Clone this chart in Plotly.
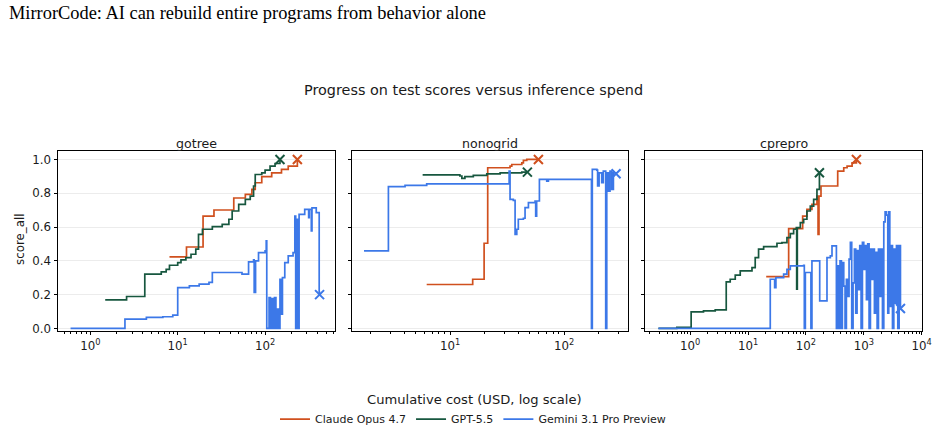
import plotly.graph_objects as go

# ---------------- data ----------------
panels = ["gotree", "nonogrid", "cprepro"]
models = ["Claude Opus 4.7", "GPT-5.5", "Gemini 3.1 Pro Preview"]
colors = ["#D0501E", "#17573F", "#3C78E8"]

# gotree
gotree_claude_x = [8.05, 12.6, 19.5, 26.0, 43.8, 59.4, 70.6, 77.1, 91.6, 119, 154, 184, 234]
gotree_claude_y = [0.423, 0.482, 0.665, 0.701, 0.772, 0.793, 0.823, 0.862, 0.898, 0.921, 0.941, 0.961, 1.0]
gotree_gpt_x = [1.48, 2.60, 4.20, 6.48, 7.38, 8.05, 10.0, 10.9, 12.4, 14.2, 16.1, 17.3, 19.2, 24.9, 32.3,
                38.5, 42.0, 49.9, 59.4, 67.6, 73.8, 77.1, 91.6, 100, 114, 130, 148]
gotree_gpt_y = [0.169, 0.189, 0.321, 0.335, 0.350, 0.374, 0.390, 0.406, 0.419, 0.439, 0.469, 0.557, 0.587,
                0.602, 0.616, 0.646, 0.695, 0.734, 0.764, 0.783, 0.843, 0.911, 0.921, 0.937, 0.961, 0.976, 1.0]
gotree_gem_x = [0.594, 2.49, 4.38, 6.76, 8.78, 10.0, 13.6, 17.6, 22.8, 24.9, 52.1, 54.4, 64.7, 73.8, 75.0,
                77.8, 84.1, 100, 103, 104.5, 111, 115, 119, 124, 128, 133, 137, 142, 148, 154, 158, 168,
                184, 209, 219, 224, 232, 238, 245, 284, 315, 320, 338, 344, 385, 409, 416, 420]
gotree_gem_y = [0.0, 0.055, 0.065, 0.069, 0.079, 0.242, 0.252, 0.262, 0.272, 0.331, 0.331, 0.321, 0.394,
                0.406, 0.213, 0.400, 0.449, 0.459, 0.518, 0.0, 0.183, 0.0, 0.177, 0.0, 0.183, 0.0, 0.114,
                0.0, 0.291, 0.085, 0.301, 0.390, 0.429, 0.449, 0.665, 0.0, 0.646, 0.0, 0.675, 0.705,
                0.656, 0.705, 0.577, 0.713, 0.685, 0.685, 0.213, 0.20]

# nonogrid
nono_claude_x = [6.24, 15.8, 19.9, 21.4, 33.6, 34.8, 42.6, 44.0, 47.1, 59.6]
nono_claude_y = [0.260, 0.291, 0.504, 0.951, 0.961, 0.970, 0.980, 0.994, 1.0, 1.0]
nono_gpt_x = [5.75, 12.2, 12.7, 13.5, 16.0, 21.0, 27.5, 42.6, 47.7]
nono_gpt_y = [0.909, 0.902, 0.888, 0.898, 0.906, 0.915, 0.921, 0.925, 0.925]
nono_gem_x = [1.76, 2.88, 4.03, 6.24, 32.5, 33.0, 33.6, 35.9, 37.2, 38.5, 39.7, 44.0, 45.5, 48.7, 55.7,
              56.4, 57.5, 60.8, 70.5, 72.9, 171, 174, 177, 194, 197, 203, 214, 221, 232, 237, 245, 253,
              262, 271, 286]
nono_gem_y = [0.459, 0.839, 0.846, 0.856, 0.856, 0.931, 0.764, 0.758, 0.557, 0.587, 0.646, 0.652, 0.715,
              0.744, 0.754, 0.665, 0.754, 0.882, 0.872, 0.882, 0.882, 0.0, 0.941, 0.937, 0.843, 0.921,
              0.862, 0.931, 0.0, 0.921, 0.813, 0.931, 0.823, 0.921, 0.915]

# cprepro
cpre_claude_x = [20.6, 50.3, 87.8, 104, 127, 155, 162, 168, 182, 354, 450, 514, 627, 745]
cpre_claude_y = [0.307, 0.591, 0.665, 0.705, 0.734, 0.783, 0.557, 0.783, 0.843, 0.931, 0.951, 0.961,
                 0.980, 1.0]
cpre_gpt_x = [0.283, 0.588, 1.04, 1.70, 2.71, 4.20, 4.92, 6.01, 7.33, 11.7, 13.3, 15.2, 18.6, 31.6, 38.5,
              47.0, 53.7, 61.3, 68.2, 69.2, 71.0, 80.0, 91.4, 104, 119, 136, 155, 171]
cpre_gpt_y = [0.0, 0.006, 0.098, 0.104, 0.110, 0.276, 0.291, 0.315, 0.341, 0.360, 0.419, 0.469, 0.484,
              0.504, 0.508, 0.537, 0.561, 0.587, 0.596, 0.232, 0.596, 0.626, 0.646, 0.695, 0.724, 0.764,
              0.823, 0.921]
cpre_gem_x = [0.283, 24.2, 28.8, 30.3, 41.2, 47.0, 53.7, 91.4, 93.8, 97.7, 119, 122, 127, 168, 173, 217,
              231, 264, 282, 323, 336, 354, 373, 388, 410, 426, 450, 474, 500, 527, 556, 586, 618, 652,
              687, 725, 764, 807, 851, 897, 946, 997, 1052, 1109, 1169, 1233, 1300, 1371, 1445, 1524,
              1607, 1698, 1790, 1888, 1991, 2099, 2213, 2333, 2460, 2594, 2698, 2812, 2965, 3126, 3296,
              3475, 3664, 3863, 4074, 4295]
cpre_gem_y = [0.0, 0.291, 0.242, 0.301, 0.321, 0.350, 0.370, 0.374, 0.0, 0.331, 0.331, 0.0, 0.400,
              0.400, 0.163, 0.163, 0.419, 0.429, 0.488, 0.488, 0.0, 0.37, 0.0, 0.40, 0.0, 0.39, 0.25, 0.0,
              0.29, 0.19, 0.41, 0.51, 0.0, 0.27, 0.47, 0.09, 0.46, 0.23, 0.49, 0.0, 0.51, 0.35, 0.49,
              0.17, 0.50, 0.0, 0.47, 0.29, 0.47, 0.09, 0.45, 0.0, 0.47, 0.19, 0.47, 0.0, 0.63, 0.69,
              0.67, 0.09, 0.69, 0.13, 0.49, 0.0, 0.47, 0.15, 0.49, 0.0, 0.49, 0.118]

series = {
    "gotree": [(gotree_claude_x, gotree_claude_y), (gotree_gpt_x, gotree_gpt_y), (gotree_gem_x, gotree_gem_y)],
    "nonogrid": [(nono_claude_x, nono_claude_y), (nono_gpt_x, nono_gpt_y), (nono_gem_x, nono_gem_y)],
    "cprepro": [(cpre_claude_x, cpre_claude_y), (cpre_gpt_x, cpre_gpt_y), (cpre_gem_x, cpre_gem_y)],
}

y_ticks = [0.0, 0.2, 0.4, 0.6, 0.8, 1.0]
y_ticklabels = ["0.0", "0.2", "0.4", "0.6", "0.8", "1.0"]
x_decades = [[0, 1, 2], [1, 2], [0, 1, 2, 3, 4]]
x_ranges = [[-0.37, 2.80], [0.14, 2.561], [-0.78, 4.005]]

title_text = "MirrorCode: AI can rebuild entire programs from behavior alone"
suptitle = "Progress on test scores versus inference spend"
xlabel = "Cumulative cost (USD, log scale)"
ylabel = "score_all"

# ---------------- layout geometry ----------------
W, H = 939, 434
x_px = [(58, 335), (352, 628), (645, 922)]
y_px = (151.7, 332.5)
FONT = "DejaVu Sans"
TXT = "#1a1a1a"

fig = go.Figure()

for p, name in enumerate(panels):
    ax = "" if p == 0 else str(p + 1)
    for m, (xs, ys) in enumerate(series[name]):
        fig.add_trace(go.Scatter(
            x=xs, y=ys, mode="lines", line=dict(color=colors[m], width=1.7, shape="hv"),
            name=models[m], legendgroup=models[m], showlegend=(p == 0),
            xaxis="x" + ax, yaxis="y" + ax, hoverinfo="skip"))
        fig.add_trace(go.Scatter(
            x=[xs[-1]], y=[ys[-1]], mode="markers",
            marker=dict(symbol="x-thin", size=9, line=dict(color=colors[m], width=2)),
            showlegend=False, xaxis="x" + ax, yaxis="y" + ax, hoverinfo="skip"))

layout = dict(
    width=W, height=H, autosize=False,
    margin=dict(l=0, r=0, t=0, b=0),
    paper_bgcolor="white", plot_bgcolor="white",
    font=dict(family=FONT, size=11.5, color=TXT),
    legend=dict(orientation="h", x=473 / W, xanchor="center", y=1 - 421 / H, yanchor="middle",
                font=dict(size=11, family=FONT, color=TXT), itemwidth=30, tracegroupgap=0,
                bgcolor="rgba(0,0,0,0)"),
    annotations=[],
)

for p in range(3):
    ax = "" if p == 0 else str(p + 1)
    d = x_decades[p]
    minor_vals = [m * 10 ** k for k in range(-1, 5) for m in range(2, 10)]
    layout["xaxis" + ax] = dict(
        type="log", range=x_ranges[p], domain=[x_px[p][0] / W, x_px[p][1] / W],
        anchor="y" + ax, showgrid=False, zeroline=False,
        showline=True, mirror=True, linecolor="black", linewidth=1,
        ticks="outside", ticklen=3.5, tickwidth=1, tickcolor="black",
        tickvals=[10 ** k for k in d], ticktext=["10<sup>%d</sup>" % k for k in d],
        tickfont=dict(size=11.8, family=FONT, color=TXT),
        minor=dict(ticks="outside", ticklen=2, tickwidth=0.8, tickcolor="black",
                   tickvals=minor_vals, showgrid=False),
        automargin=False,
    )
    layout["yaxis" + ax] = dict(
        range=[-0.015, 1.05], domain=[1 - y_px[1] / H, 1 - y_px[0] / H],
        anchor="x" + ax, showgrid=True, gridcolor="#ececec", gridwidth=1, zeroline=False,
        showline=True, mirror=True, linecolor="black", linewidth=1,
        ticks="outside", ticklen=3.5, tickwidth=1, tickcolor="black",
        tickvals=y_ticks, ticktext=y_ticklabels, showticklabels=(p == 0),
        tickfont=dict(size=11.8, family=FONT, color=TXT),
        automargin=False,
    )
    layout["annotations"].append(dict(
        text=panels[p], x=(x_px[p][0] + x_px[p][1]) / 2 / W, y=1 - 144 / H,
        xref="paper", yref="paper", xanchor="center", yanchor="middle", showarrow=False,
        font=dict(size=12.6, family=FONT, color=TXT)))

layout["annotations"] += [
    dict(text=title_text, x=7 / W, y=1 - 13 / H, xref="paper", yref="paper",
         xanchor="left", yanchor="middle", showarrow=False,
         font=dict(size=18.4, family="Liberation Serif", color="black")),
    dict(text=suptitle, x=473.5 / W, y=1 - 90 / H, xref="paper", yref="paper",
         xanchor="center", yanchor="middle", showarrow=False,
         font=dict(size=14.4, family=FONT, color=TXT)),
    dict(text=xlabel, x=474 / W, y=1 - 401 / H, xref="paper", yref="paper",
         xanchor="center", yanchor="middle", showarrow=False,
         font=dict(size=13.1, family=FONT, color=TXT)),
    dict(text=ylabel, x=20 / W, y=1 - 241 / H, xref="paper", yref="paper",
         xanchor="center", yanchor="middle", showarrow=False, textangle=-90,
         font=dict(size=11.8, family=FONT, color=TXT)),
]

fig.update_layout(**layout)
fig.write_html("out.html")
